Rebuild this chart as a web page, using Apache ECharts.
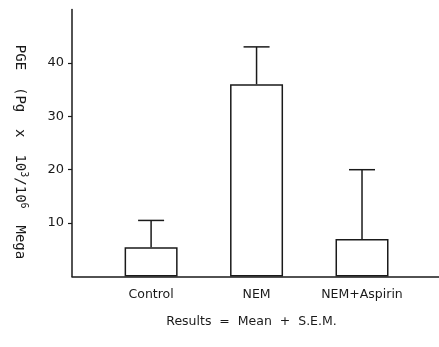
<!DOCTYPE html>
<html>
<head>
<meta charset="utf-8">
<script src="https://cdn.jsdelivr.net/npm/echarts@6/dist/echarts.min.js"></script>
<style>html,body{margin:0;padding:0;background:#fff;}#c{width:439px;height:347px;}</style>
</head>
<body>
<div id="c"></div>
<script>
const categories = ['Control', 'NEM', 'NEM+Aspirin'];
const meanValues = [5.5, 36, 7];
const semUpper = [10.5, 43, 20];
const yTicks = [10, 20, 30, 40];

const positions = categories.map((c, i) => i + 1);
const barData = positions.map((p, i) => [p, meanValues[i]]);
const errData = positions.map((p, i) => [p, meanValues[i], semUpper[i]]);

const ink = '#1a1a1a';
const chart = echarts.init(document.getElementById('c'), null, {renderer: 'canvas'});
chart.setOption({
  animation: false,
  backgroundColor: '#fff',
  grid: {left: 72, right: 0, top: 9.5, bottom: 70.5},
  xAxis: {
    type: 'value', min: 0.25, max: 3.73,
    splitLine: {show: false},
    axisLine: {show: true, lineStyle: {color: ink, width: 1.5}},
    axisTick: {show: false},
    axisLabel: {
      customValues: positions,
      formatter: v => categories[Math.round(v) - 1] || '',
      color: ink, fontFamily: 'DejaVu Sans', fontSize: 12.5, margin: 12
    }
  },
  yAxis: {
    type: 'value', min: 0, max: 50,
    splitLine: {show: false},
    axisLine: {show: true, lineStyle: {color: ink, width: 1.5}},
    axisTick: {show: true, length: 4, customValues: yTicks, lineStyle: {color: ink, width: 1.2}},
    axisLabel: {customValues: yTicks, color: ink, fontFamily: 'DejaVu Sans', fontSize: 13, margin: 8}
  },
  graphic: [
    {
      type: 'text', x: 20, y: 152, rotation: -Math.PI / 2,
      style: {
        text: '{a|PGE  (Pg  x  10}{s|3}{a|/10}{s|6}{a|  Mega}',
        align: 'center', verticalAlign: 'middle',
        rich: {
          a: {fontFamily: 'DejaVu Sans Mono', fontSize: 14, fill: ink},
          s: {fontFamily: 'DejaVu Sans Mono', fontSize: 10, fill: ink, verticalAlign: 'top', padding: [0, 0, 8, 0]}
        }
      }
    },
    {
      type: 'text', x: 251.5, y: 322,
      style: {
        text: 'Results  =  Mean  +  S.E.M.',
        align: 'center', verticalAlign: 'middle',
        fontFamily: 'DejaVu Sans', fontSize: 12.5, fill: ink
      }
    }
  ],
  series: [
    {
      type: 'bar', data: barData, barWidth: 53,
      itemStyle: {color: '#fff', borderColor: ink, borderWidth: 1.5}
    },
    {
      type: 'custom', data: errData,
      renderItem: function (params, api) {
        const x = api.value(0);
        const p0 = api.coord([x, api.value(1)]);
        const p1 = api.coord([x, api.value(2)]);
        const half = 13;
        const st = {stroke: ink, lineWidth: 1.5};
        return {
          type: 'group',
          children: [
            {type: 'line', shape: {x1: p0[0], y1: p0[1], x2: p1[0], y2: p1[1]}, style: st},
            {type: 'line', shape: {x1: p1[0] - half, y1: p1[1], x2: p1[0] + half, y2: p1[1]}, style: st}
          ]
        };
      },
      z: 5
    }
  ]
});
</script>
</body>
</html>
